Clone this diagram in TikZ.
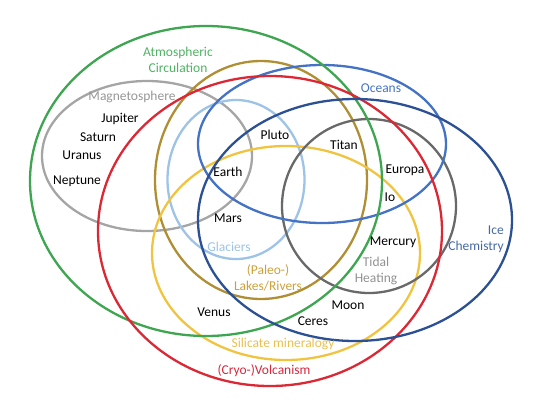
\documentclass[tikz,border=0pt]{standalone}
\usepackage{fontspec}
\setmainfont{Carlito}
\definecolor{cgreen}{RGB}{62,165,80}
\definecolor{cred}{RGB}{220,40,52}
\definecolor{cmag}{RGB}{165,165,165}
\definecolor{colive}{RGB}{176,143,52}
\definecolor{clblue}{RGB}{157,195,230}
\definecolor{cocean}{RGB}{68,114,196}
\definecolor{cice}{RGB}{44,80,148}
\definecolor{ctidal}{RGB}{105,105,105}
\definecolor{cyellow}{RGB}{240,196,64}
\definecolor{tgreen}{RGB}{80,178,100}
\definecolor{tmag}{RGB}{150,150,150}
\definecolor{tolive}{RGB}{205,160,60}
\definecolor{tice}{RGB}{70,105,165}
\definecolor{ttidal}{RGB}{145,145,145}
\definecolor{tyellow}{RGB}{232,192,80}
\definecolor{tred}{RGB}{215,40,60}
\tikzset{
  ring/.style={line width=2.3pt},
  lbl/.style={font=\fontsize{13.5}{16}\selectfont, inner sep=0pt, align=center},
  planet/.style={lbl, text=black}
}
\begin{document}
\begin{tikzpicture}[x=1pt,y=-1pt]
\useasboundingbox (0,0) rectangle (540,405);
% sets
\draw[ring, cmag]    (147,156) ellipse [x radius=105, y radius=75];
\draw[ring, clblue]  (236,179.5) ellipse [x radius=68.5, y radius=79.5];
\draw[ring, colive]  (261,180) ellipse [x radius=106, y radius=119];
\draw[ring, cyellow] (286,253) ellipse [x radius=134, y radius=107];
\draw[ring, ctidal]  (369,206) ellipse [x radius=87, y radius=87];
\draw[ring, cocean]  (322,144) ellipse [x radius=124, y radius=79];
\draw[ring, cgreen]  (206,181) ellipse [x radius=176, y radius=155];
\draw[ring, cred]    (270,231) ellipse [x radius=172, y radius=155];
\draw[ring, cice]    (355,220) ellipse [x radius=157, y radius=121];
% set labels
\node[lbl, text=tgreen] (atm) at (178,60) {Atmospheric\\Circulation};
\node[lbl, text=tmag] (mag) at (132,97) {Magnetosphere};
\node[lbl, text=cocean] (oce) at (381,88) {Oceans};
\node[lbl, text=clblue] (gla) at (229,247) {Glaciers};
\node[lbl, text=tolive] (lak) at (268,277.5) {(Paleo-)\\Lakes/Rivers};
\node[lbl, text=ttidal] (tid) at (376,270.5) {Tidal\\Heating};
\node[lbl, text=tice, align=right, anchor=east] (ice) at (504,239) {Ice\\Chemistry};
\node[lbl, text=tyellow] (sil) at (283,344) {Silicate mineralogy};
\node[lbl, text=tred] (vol) at (264,371) {(Cryo-)Volcanism};
% planets
\node[planet] (jup) at (120,119) {Jupiter};
\node[planet] (sat) at (98,137) {Saturn};
\node[planet] (ura) at (82,155) {Uranus};
\node[planet] (nep) at (77,181) {Neptune};
\node[planet] (plu) at (275,135) {Pluto};
\node[planet] (ear) at (228,172) {Earth};
\node[planet] (mar) at (228,218) {Mars};
\node[planet] (tit) at (344,145) {Titan};
\node[planet] (eur) at (405,170) {Europa};
\node[planet] (io) at (390,197) {Io};
\node[planet] (mer) at (393,242) {Mercury};
\node[planet] (moo) at (348,305) {Moon};
\node[planet] (cer) at (313,321) {Ceres};
\node[planet] (ven) at (214,312) {Venus};
\end{tikzpicture}
\end{document}
